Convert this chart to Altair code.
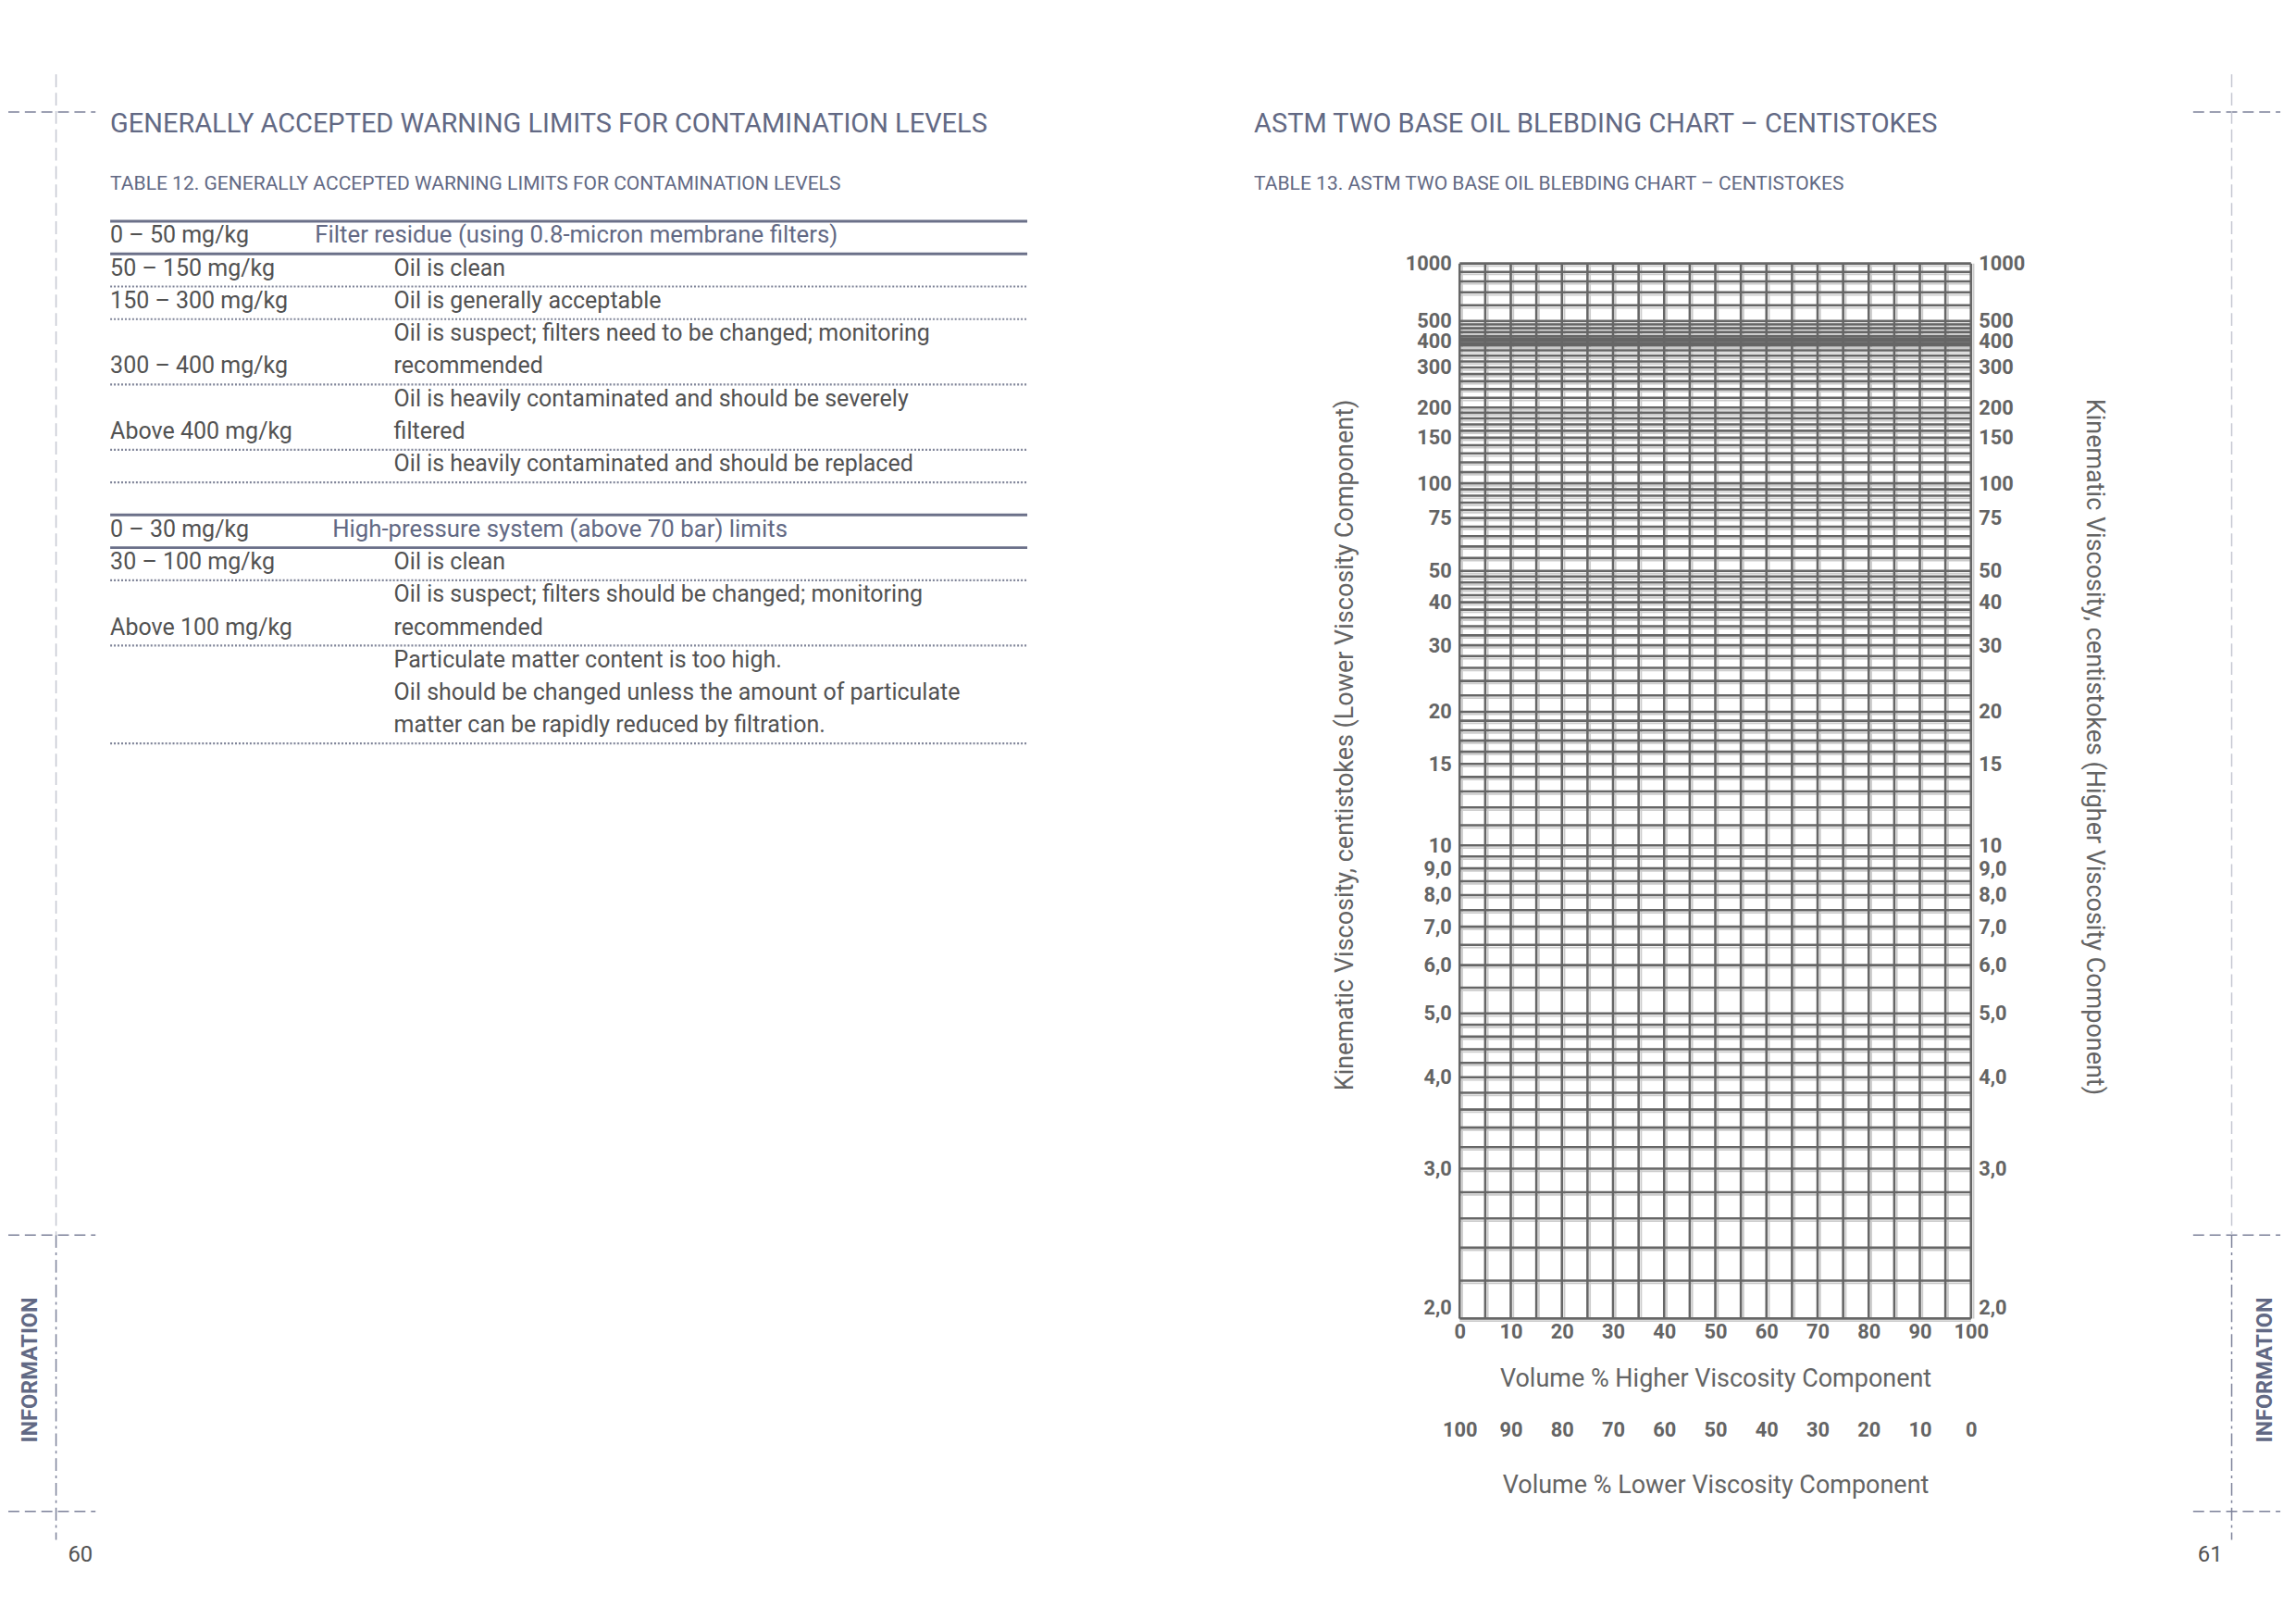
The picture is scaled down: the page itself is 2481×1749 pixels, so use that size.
import math
import altair as alt
import pandas as pd

# ---------------- text content ----------------
left_title = "GENERALLY ACCEPTED WARNING LIMITS FOR CONTAMINATION LEVELS"
left_subtitle = "TABLE 12. GENERALLY ACCEPTED WARNING LIMITS FOR CONTAMINATION LEVELS"
right_title = "ASTM TWO BASE OIL BLEBDING CHART – CENTISTOKES"
right_subtitle = "TABLE 13. ASTM TWO BASE OIL BLEBDING CHART – CENTISTOKES"
section_label = "INFORMATION"
page_numbers = ["60", "61"]

header_row = [0, 9]
header_range = ["0 – 50 mg/kg", "0 – 30 mg/kg"]
header_desc = ["Filter residue (using 0.8-micron membrane filters)",
               "High-pressure system (above 70 bar) limits"]

body_row = [1, 2, 3, 4, 5, 6, 7, 10, 11, 12, 13, 14, 15]
body_range = ["50 – 150 mg/kg", "150 – 300 mg/kg", "", "300 – 400 mg/kg", "",
              "Above 400 mg/kg", "", "30 – 100 mg/kg", "", "Above 100 mg/kg", "", "", ""]
body_desc = ["Oil is clean",
             "Oil is generally acceptable",
             "Oil is suspect; filters need to be changed; monitoring",
             "recommended",
             "Oil is heavily contaminated and should be severely",
             "filtered",
             "Oil is heavily contaminated and should be replaced",
             "Oil is clean",
             "Oil is suspect; filters should be changed; monitoring",
             "recommended",
             "Particulate matter content is too high.",
             "Oil should be changed unless the amount of particulate",
             "matter can be rapidly reduced by filtration."]

thick_rule_after_row = [-1, 0, 8, 9]
dotted_rule_after_row = [1, 2, 4, 6, 7, 10, 12, 15]

# ---------------- chart data ----------------
viscosity_gridlines = [2.0, 2.2, 2.4, 2.6, 2.8, 3.0, 3.2, 3.4, 3.6, 3.8, 4.0, 4.2, 4.4, 4.6, 4.8,
                       5.0, 5.5, 6.0, 6.5, 7.0, 7.5, 8.0, 8.5, 9.0, 9.5,
                       10, 11, 12, 13, 14, 15, 16, 17, 18, 19, 20,
                       22, 24, 26, 28, 30, 32, 34, 36, 38, 40, 42, 44, 46, 48, 50,
                       55, 60, 65, 70, 75, 80, 85, 90, 95, 100,
                       110, 120, 130, 140, 150, 160, 170, 180, 190, 200,
                       220, 240, 260, 280, 300,
                       320, 340, 360, 380, 390, 400, 410, 420, 440, 460, 480, 500,
                       600, 700, 800, 900, 1000]
viscosity_labels = [1000, 500, 400, 300, 200, 150, 100, 75, 50, 40, 30, 20, 15,
                    10, 9, 8, 7, 6, 5, 4, 3, 2]
volume_gridlines = [0, 5, 10, 15, 20, 25, 30, 35, 40, 45, 50,
                    55, 60, 65, 70, 75, 80, 85, 90, 95, 100]
volume_labels = [0, 10, 20, 30, 40, 50, 60, 70, 80, 90, 100]

# ---------------- style / layout ----------------
FONT = "Roboto"
SLATE = "#626984"
RULE_SLATE = "#6b7089"
DOT_SLATE = "#7f8498"
TEXT = "#525252"
GRID = "#666666"
SHADOW = "#cccccc"
AXIS_TEXT = "#646464"
CROP_LIGHT = "#c4c7d1"
CROP_DARK = "#7c8199"

PLOT_W, PLOT_H = 557, 1149
ROW_PX = 35.55
ROW_TOP = (285 - 3 - 251.6) / ROW_PX      # table row index at the plot top edge
ROW_BOTTOM = ROW_TOP + PLOT_H / ROW_PX    # table row index at the plot bottom edge
SH = -10                                  # left page offset
TAB_L, TAB_R = -1460 + SH, -461 + SH      # table extent relative to the chart's plot area
DESC_X = TAB_L + 309
HEAD_X = [TAB_L + 223, TAB_L + 242]
Y0 = 3                                    # vertical correction for page furniture
YB = 11                                   # extra vertical correction for lower furniture


def loglog(v):
    return math.log10(math.log10(v + 0.7))


Y_DOMAIN = [loglog(2.0), loglog(1000.0)]
YV = "log(log(datum.visc + 0.7) / LN10) / LN10"
LABEL_EXPR = ("(pow(10, pow(10, datum.value)) - 0.7) >= 9.95 ? "
              "format(pow(10, pow(10, datum.value)) - 0.7, '.0f') : "
              "replace(format(pow(10, pow(10, datum.value)) - 0.7, '.1f'), '.', ',')")

one = pd.DataFrame({"k": [0]})
layers = []

# ---------------- page furniture and titles ----------------
txt = dict(font=FONT, baseline="middle", align="left")
for tx, t, s in [(TAB_L, left_title, left_subtitle), (-224, right_title, right_subtitle)]:
    layers.append(alt.Chart(one).mark_text(fontSize=29.2, color=SLATE, **txt)
                  .encode(x=alt.value(tx), y=alt.value(-155 + Y0), text=alt.value(t)))
    layers.append(alt.Chart(one).mark_text(fontSize=21.2, color=SLATE, **txt)
                  .encode(x=alt.value(tx), y=alt.value(-89 + Y0), text=alt.value(s)))

for x0, x1, xv in [(-1571 + SH, -1476 + SH, -1519 + SH), (799, 894, 841)]:
    layers.append(alt.Chart(one).mark_rule(color=CROP_DARK, strokeWidth=1.5, strokeDash=[12, 6])
                  .encode(x=alt.value(x0), x2=alt.value(x1), y=alt.value(-168 + Y0)))
    for yv in [1044, 1345]:
        layers.append(alt.Chart(one).mark_rule(color=CROP_DARK, strokeWidth=1.5, strokeDash=[12, 6])
                      .encode(x=alt.value(x0), x2=alt.value(x1), y=alt.value(yv + Y0 + YB)))
    layers.append(alt.Chart(one).mark_rule(color=CROP_LIGHT, strokeWidth=1.5, strokeDash=[14, 6])
                  .encode(x=alt.value(xv), y=alt.value(-209 + Y0), y2=alt.value(1044 + Y0 + YB)))
    layers.append(alt.Chart(one).mark_rule(color=CROP_DARK, strokeWidth=1.5, strokeDash=[14, 5, 3, 5])
                  .encode(x=alt.value(xv), y=alt.value(1044 + Y0 + YB), y2=alt.value(1376 + Y0 + YB)))
for xi in [-1547 + SH, 878]:
    layers.append(alt.Chart(one).mark_text(font=FONT, fontSize=23.7, fontWeight="bold", color=SLATE,
                                           angle=270, align="center", baseline="middle")
                  .encode(x=alt.value(xi), y=alt.value(1196 + Y0 + 6), text=alt.value(section_label)))
layers.append(alt.Chart(one).mark_text(font=FONT, fontSize=24, color=TEXT, align="left", baseline="middle")
              .encode(x=alt.value(-1506 + SH), y=alt.value(1393 + Y0 + YB), text=alt.value(page_numbers[0])))
layers.append(alt.Chart(one).mark_text(font=FONT, fontSize=24, color=TEXT, align="right", baseline="middle")
              .encode(x=alt.value(831), y=alt.value(1393 + Y0 + YB), text=alt.value(page_numbers[1])))

# ---------------- left page table ----------------
rows_scale = alt.Scale(domain=[ROW_TOP, ROW_BOTTOM], reverse=True, nice=False, zero=False)
header_df = pd.DataFrame({"row": header_row, "range": header_range, "desc": header_desc})
body_df = pd.DataFrame({"row": body_row, "range": body_range, "desc": body_desc})
thick_df = pd.DataFrame({"after": thick_rule_after_row})
dotted_df = pd.DataFrame({"after": dotted_rule_after_row})


def ytab(field):
    return alt.Y(field, type="quantitative", scale=rows_scale, axis=None)


layers.append(alt.Chart(thick_df).transform_calculate(pos="datum.after + 0.56")
              .mark_rule(color=RULE_SLATE, strokeWidth=3)
              .encode(x=alt.value(TAB_L), x2=alt.value(TAB_R), y=ytab("pos")))
layers.append(alt.Chart(dotted_df).transform_calculate(pos="datum.after + 0.56")
              .mark_rule(color=DOT_SLATE, strokeWidth=2.2, strokeDash=[2, 2])
              .encode(x=alt.value(TAB_L), x2=alt.value(TAB_R), y=ytab("pos")))
layers.append(alt.Chart(header_df).mark_text(fontSize=25.2, color=TEXT, **txt)
              .encode(x=alt.value(TAB_L), y=ytab("row"), text="range:N"))
for i, hx in enumerate(HEAD_X):
    layers.append(alt.Chart(header_df.iloc[[i]]).mark_text(fontSize=26, color=SLATE, **txt)
                  .encode(x=alt.value(hx), y=ytab("row"), text="desc:N"))
layers.append(alt.Chart(body_df).mark_text(fontSize=25.2, color=TEXT, **txt)
              .encode(x=alt.value(TAB_L), y=ytab("row"), text="range:N"))
layers.append(alt.Chart(body_df).mark_text(fontSize=25.2, color=TEXT, **txt)
              .encode(x=alt.value(DESC_X), y=ytab("row"), text="desc:N"))

# ---------------- right page blending chart ----------------
visc_df = pd.DataFrame({"visc": viscosity_gridlines})
vol_df = pd.DataFrame({"pct": volume_gridlines})
yscale = alt.Scale(domain=Y_DOMAIN, nice=False, zero=False)

lab = dict(labelFont=FONT, labelFontSize=22, labelFontWeight="bold", labelColor=AXIS_TEXT,
           labelOverlap=False, labelFlush=False, ticks=False, domain=False, grid=False,
           titleFont=FONT, titleFontSize=27.2, titleFontWeight="normal", titleColor=AXIS_TEXT)
y_base = {"condition": {"test": "datum.value < -0.36", "value": "bottom"}, "value": "middle"}

left_axis = alt.Axis(orient="left", values=[loglog(v) for v in viscosity_labels], labelExpr=LABEL_EXPR,
                     labelPadding=9, labelBaseline=y_base,
                     title="Kinematic Viscosity, centistokes (Lower Viscosity Component)",
                     titleAngle=270, titleX=-125, titleY=524, titleAlign="center", titleBaseline="middle", **lab)
right_axis = alt.Axis(orient="right", values=[loglog(v) for v in viscosity_labels], labelExpr=LABEL_EXPR,
                      labelPadding=8, labelBaseline=y_base,
                      title="Kinematic Viscosity, centistokes (Higher Viscosity Component)",
                      titleAngle=90, titleX=134, titleY=526, titleAlign="center", titleBaseline="middle", **lab)
bottom_axis = alt.Axis(orient="bottom", values=volume_labels, format="d", labelPadding=4,
                       title="Volume % Higher Viscosity Component", titleY=66, titleBaseline="middle", **lab)
bottom_axis2 = alt.Axis(orient="bottom", offset=107, values=volume_labels, format="d", labelPadding=4,
                        title="Volume % Lower Viscosity Component", titleY=75, titleBaseline="middle", **lab)

layers.append(alt.Chart(visc_df).transform_calculate(yv=YV)
              .mark_rule(color=SHADOW, strokeWidth=1.8, yOffset=2.8)
              .encode(y=alt.Y("yv:Q", scale=yscale, axis=right_axis)))
layers.append(alt.Chart(vol_df).transform_calculate(lower="100 - datum.pct")
              .mark_rule(color=SHADOW, strokeWidth=1.8, xOffset=2.8)
              .encode(x=alt.X("lower:Q", scale=alt.Scale(domain=[0, 100], reverse=True, nice=False),
                              axis=bottom_axis2)))
layers.append(alt.Chart(vol_df).mark_rule(color=GRID, strokeWidth=2.6)
              .encode(x=alt.X("pct:Q", scale=alt.Scale(domain=[0, 100], nice=False), axis=bottom_axis)))
layers.append(alt.Chart(visc_df).transform_calculate(yv=YV)
              .mark_rule(color=GRID, strokeWidth=2.6)
              .encode(y=alt.Y("yv:Q", scale=yscale, axis=left_axis)))

chart = (alt.layer(*layers)
         .resolve_scale(x="independent", y="independent")
         .resolve_axis(x="independent", y="independent")
         .properties(width=PLOT_W, height=PLOT_H,
                     padding={"left": 0, "top": 65, "right": 8, "bottom": 8})
         .configure_view(stroke=None))

chart.save("out.html", embed_options={"renderer": "svg", "actions": False})
